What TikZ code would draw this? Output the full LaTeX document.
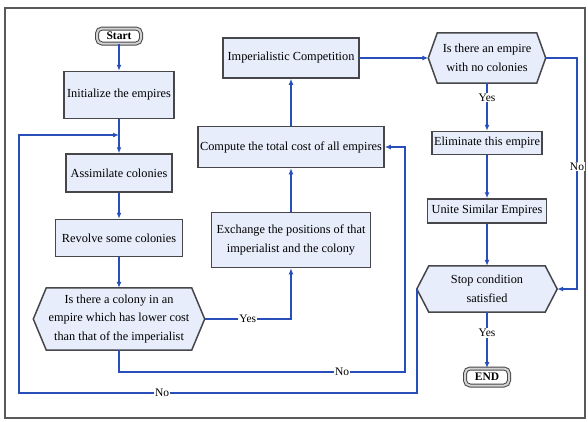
\documentclass[tikz,border=0pt]{standalone}
\usepackage{fontspec}
\setmainfont{Liberation Serif}
\usetikzlibrary{arrows.meta,backgrounds,calc}
\definecolor{lineblue}{RGB}{40,78,185}
\definecolor{boxfill}{RGB}{231,237,250}
\definecolor{boxdraw}{RGB}{70,70,75}
\begin{document}
\begin{tikzpicture}[x=1pt,y=-1pt,
  font=\fontsize{12.3}{18.5}\selectfont,
  box/.style={draw=boxdraw,line width=1.5pt,fill=boxfill,inner sep=2pt,align=center},
  term/.style={draw=boxdraw,line width=1pt,rounded corners=5pt,double=gray!35,double distance=2pt,fill=white,inner sep=2pt,font=\fontsize{11.5}{13}\selectfont\bfseries},
  hexnode/.style={rectangle,inner sep=0pt,align=center},
  hexdraw/.style={draw=boxdraw,line width=1.5pt,fill=boxfill,line join=miter},
  conn/.style={draw=lineblue,line width=1.6pt},
  arr/.style={conn,-{Latex[length=6pt,width=5pt]}},
  lab/.style={fill=white,inner sep=1pt,font=\fontsize{11.5}{13}\selectfont}]
\useasboundingbox (0,0) rectangle (588,421);
\draw[line width=1.8pt,draw=gray!70!black] (5,8) rectangle (585,418);

% nodes
\node[term,minimum width=44pt,minimum height=15pt] (start) at (119,36) {Start};
\node[box,minimum width=110pt,minimum height=47pt] (init) at (119,95) {Initialize the empires};
\node[box,minimum width=106pt,minimum height=38pt] (assim) at (119,173) {Assimilate colonies};
\node[box,minimum width=127pt,minimum height=37pt] (revolve) at (119,238) {Revolve some colonies};
\node[hexnode,minimum width=171pt,minimum height=62pt] (d1) at (119,319) {Is there a colony in an\\empire which has lower cost\\than that of the imperialist};
\node[box,minimum width=159pt,minimum height=55pt] (exch) at (291,240) {Exchange the positions of that\\imperialist and the colony};
\node[box,minimum width=186pt,minimum height=41pt] (comp) at (291,147) {Compute the total cost of all empires};
\node[box,minimum width=136pt,minimum height=40pt] (imp) at (291,58) {Imperialistic Competition};
\node[hexnode,minimum width=117pt,minimum height=50pt] (d2) at (487,58) {Is there an empire\\with no colonies};
\node[box,minimum width=110pt,minimum height=23pt] (elim) at (487,143) {Eliminate this empire};
\node[box,minimum width=119pt,minimum height=24pt] (unite) at (487,211) {Unite Similar Empires};
\node[hexnode,minimum width=140pt,minimum height=46pt] (stop) at (487,289) {Stop condition\\satisfied};
\node[term,minimum width=44pt,minimum height=17pt] (end) at (487,377) {END};

% hexagon outlines
\begin{scope}[on background layer]
\draw[hexdraw] (d1.west) -- ([xshift=13pt]d1.north west) -- ([xshift=-13pt]d1.north east) -- (d1.east) -- ([xshift=-13pt]d1.south east) -- ([xshift=13pt]d1.south west) -- cycle;
\draw[hexdraw] (d2.west) -- ([xshift=9pt]d2.north west) -- ([xshift=-9pt]d2.north east) -- (d2.east) -- ([xshift=-9pt]d2.south east) -- ([xshift=9pt]d2.south west) -- cycle;
\draw[hexdraw] (stop.west) -- ([xshift=12pt]stop.north west) -- ([xshift=-12pt]stop.north east) -- (stop.east) -- ([xshift=-12pt]stop.south east) -- ([xshift=12pt]stop.south west) -- cycle;
\end{scope}

% helper coordinates
\coordinate (n1) at (405,372);
\coordinate (b2) at (19,393);
\coordinate (b4) at (119,135);
\coordinate (r1) at (577,58);

% connectors
\draw[arr] (start) -- (init);
\draw[arr] (init) -- (assim);
\draw[arr] (assim) -- (revolve);
\draw[arr] (revolve) -- (d1);
\draw[arr] (d1.east) -| node[lab,pos=0.25] {Yes} (exch.south);
\draw[arr] (exch) -- (comp);
\draw[arr] (comp) -- (imp);
\draw[arr] (d1.south) |- node[lab,pos=0.89] {No} (n1) |- (comp.east);
\draw[arr] (imp.east) -- (d2.west);
\draw[arr] (d2.south) -- node[lab,pos=0.3] {Yes} (elim.north);
\draw[arr] (elim) -- (unite);
\draw[arr] (unite) -- (stop.north);
\draw[arr] (d2.east) -- (r1) -- node[lab,pos=0.47] {No} (r1 |- stop.east) -- (stop.east);
\draw[arr] (stop.south) -- node[lab,pos=0.37] {Yes} (end.north);
\draw[arr] (stop.west) |- node[lab,pos=0.82] {No} (b2) |- (b4);
\end{tikzpicture}
\end{document}
